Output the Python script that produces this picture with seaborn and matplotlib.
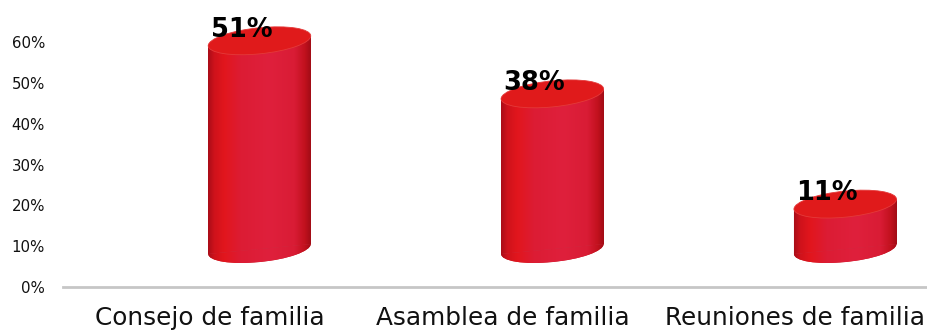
import matplotlib
matplotlib.use("Agg")
import matplotlib.pyplot as plt
import seaborn as sns
import numpy as np
from matplotlib.patches import Ellipse
from matplotlib.transforms import Affine2D
from matplotlib.colors import LinearSegmentedColormap
from matplotlib.ticker import FuncFormatter

# chart data
categories = ["Consejo de familia", "Asamblea de familia", "Reuniones de familia"]
values = [51, 38, 11]
value_labels = ["51%", "38%", "11%"]
y_ticks = [0, 10, 20, 30, 40, 50, 60]

sns.set_theme(style="white")
plt.rcParams["font.family"] = ["DejaVu Sans"]

fig = plt.figure(figsize=(9.27, 3.31), dpi=100)
ax = fig.add_axes([0.068, 0.1329, 0.932, 0.8671])

bar_w = 0.35
sns.barplot(x=categories, y=values, width=bar_w, color="#dc1d36",
            linewidth=0, ax=ax)

ax.set_xlim(-0.5, 2.45)
ax.set_ylim(0, 70.3)

# side shading of the cylinders (left -> right)
side_cmap = LinearSegmentedColormap.from_list("side", [
    (0.00, "#a90d18"), (0.06, "#cf121b"), (0.16, "#e2161d"),
    (0.32, "#dc1c34"), (0.60, "#df203c"), (0.84, "#d91c35"),
    (0.94, "#c2111e"), (1.00, "#a20c16")])
grad = np.linspace(0, 1, 256).reshape(1, -1)

# 3D look: shift the cylinders back/up and tilt them a little
dx = 0.50 * fig.dpi
dy = 0.38 * fig.dpi
tilt = 5.5
ell_h = 6.4  # thickness of the end ellipses in data units

for i, p in enumerate(list(ax.patches)):
    x0, w, h = p.get_x(), p.get_width(), p.get_height()
    cx = x0 + w / 2
    bx, by = ax.transData.transform((cx, 0))
    tr = ax.transData + Affine2D().translate(-bx, -by).skew_deg(0, tilt).translate(bx + dx, by + dy)

    p.set_transform(tr)
    p.set_zorder(3)

    base = Ellipse((cx, 0), w, ell_h, transform=tr, facecolor="#c8141f",
                   edgecolor="none", zorder=2)
    ax.add_patch(base)
    im = ax.imshow(grad, cmap=side_cmap, aspect="auto", transform=tr,
                   extent=(x0, x0 + w, -ell_h / 2, ell_h / 2), zorder=2)
    im.set_clip_path(base)

    im2 = ax.imshow(grad, cmap=side_cmap, aspect="auto", transform=tr,
                    extent=(x0, x0 + w, 0, h), zorder=3.5)
    im2.set_clip_path(p)

    top = Ellipse((cx, h), w, ell_h, transform=tr, facecolor="#e01a1b",
                  edgecolor="#e43a3a", linewidth=0.6, zorder=4)
    ax.add_patch(top)

    ax.annotate(value_labels[i], xy=(i, values[i]), xytext=(23, 30),
                textcoords="offset points", ha="center", va="baseline",
                fontsize=18.5, fontweight="bold", color="black", zorder=6)

ax.set_xlim(-0.5, 2.45)
ax.set_ylim(0, 70.3)
ax.set_yticks(y_ticks)
ax.yaxis.set_major_formatter(FuncFormatter(lambda v, _: f"{v:.0f}%"))
ax.set_xlabel("")
ax.set_ylabel("")

for s in ["left", "top", "right"]:
    ax.spines[s].set_visible(False)
ax.spines["bottom"].set_color("#c6c6c6")
ax.spines["bottom"].set_linewidth(2)

ax.tick_params(axis="y", length=0, pad=13, labelsize=10.8, labelcolor="#111111")
ax.tick_params(axis="x", length=0, pad=14, labelsize=17.8, labelcolor="#111111")
ax.grid(False)

fig.savefig("out.png", dpi=100)
